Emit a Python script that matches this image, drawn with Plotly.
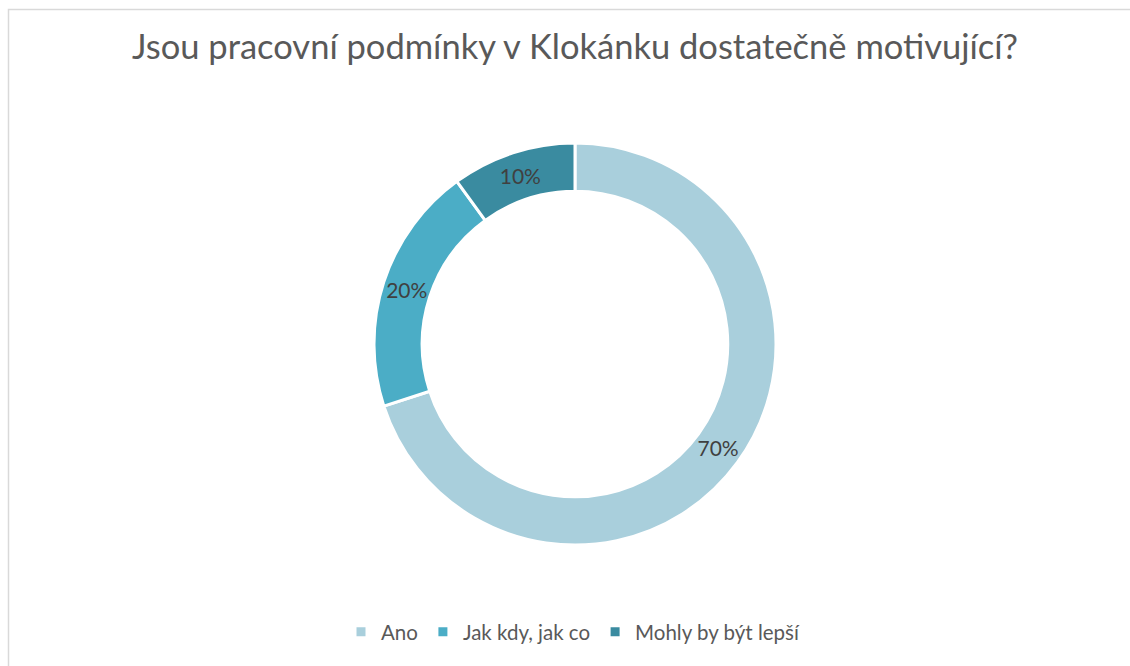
import plotly.graph_objects as go

categories = ["Ano", "Jak kdy, jak co", "Mohly by být lepší"]
values = [70, 20, 10]
colors = ["#A9CFDC", "#4BADC6", "#3A8BA0"]
title_text = "Jsou pracovní podmínky v Klokánku dostatečně motivující?"

W, H = 1130, 666
cx, cy, R = 575, 344, 201
FONT = "Lato, Open Sans, sans-serif"

fig = go.Figure(go.Pie(
    labels=categories,
    values=values,
    sort=False,
    direction="clockwise",
    rotation=0,
    hole=0.76,
    marker=dict(colors=colors, line=dict(color="white", width=3)),
    textinfo="percent",
    texttemplate="%{percent:.0%}",
    textposition="inside",
    insidetextorientation="horizontal",
    textfont=dict(family=FONT, size=21, color="#404040"),
    domain=dict(x=[(cx - R) / W, (cx + R) / W], y=[(H - cy - R) / H, (H - cy + R) / H]),
    hoverinfo="label+percent",
))

fig.update_layout(
    width=W, height=H,
    margin=dict(l=0, r=0, t=0, b=0),
    paper_bgcolor="white",
    title=dict(text=title_text, x=0.5 + 10 / W, xanchor="center", y=1 - 47 / H, yanchor="middle",
               font=dict(family=FONT, size=34.5, color="#595959")),
    legend=dict(orientation="h", x=0.5 + 8 / W, xanchor="center", y=1 - 632 / H, yanchor="middle",
                font=dict(family=FONT, size=20.5, color="#595959"),
                itemwidth=30, traceorder="normal"),
    shapes=[dict(type="rect", xref="paper", yref="paper",
                 x0=8.5 / W, x1=1.05, y0=-0.05, y1=1 - 9.5 / H,
                 line=dict(color="#D9D9D9", width=1.5), fillcolor="rgba(0,0,0,0)", layer="below")],
)

fig.write_html("out.html", config={"displayModeBar": False},
               post_script="document.body.style.margin='0px';document.body.style.overflow='hidden';")
